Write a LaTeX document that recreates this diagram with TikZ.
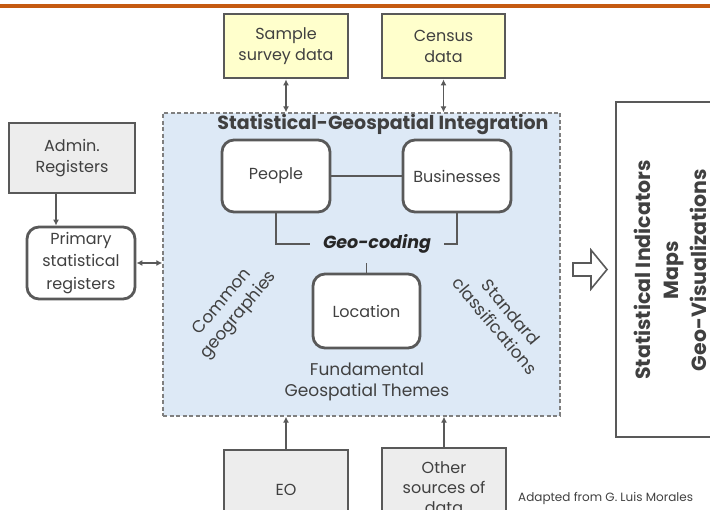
\documentclass[tikz,border=0pt]{standalone}
\usepackage{fontspec}
\setmainfont{Poppins}
\usetikzlibrary{arrows.meta}
\definecolor{edge}{RGB}{89,89,89}
\definecolor{ink}{RGB}{64,64,64}
\definecolor{paleblue}{RGB}{221,233,246}
\definecolor{paleyellow}{RGB}{255,255,204}
\definecolor{palegray}{RGB}{237,237,237}
\definecolor{rust}{RGB}{197,90,17}
\definecolor{dashgray}{RGB}{127,127,127}
\begin{document}
\begin{tikzpicture}[x=1pt,y=-1pt,
  src/.style={draw=edge, line width=2.8pt, text=ink, align=center,
    font=\fontsize{16}{21}\selectfont, inner sep=0pt},
  rbox/.style={src, rounded corners=12pt, fill=white},
  link/.style={draw=edge, line width=1.5pt},
  tip/.style={-{Latex[length=6pt,width=6pt]}},
  bitip/.style={{Latex[length=6pt,width=6pt]}-{Latex[length=6pt,width=6pt]}},
  lbl/.style={text=ink, align=center, font=\fontsize{17}{21}\selectfont, inner sep=0pt}]
\useasboundingbox (0,0) rectangle (710,510);
\clip (0,0) rectangle (710,510);

% header rule
\fill[rust] (0,4) rectangle (710,8.5);

% integration panel
\node[draw=dashgray, line width=1.3pt, dash pattern=on 4pt off 2.5pt, fill=paleblue,
  minimum width=397pt, minimum height=303pt, inner sep=0pt] (integ) at (361.5,264.5) {};
\node[lbl, font=\fontsize{19}{21}\selectfont\bfseries] (title) at (383,125) {Statistical-Geospatial Integration};

% data sources
\node[src, fill=paleyellow, minimum width=124pt, minimum height=64pt] (samp) at (286,46) {Sample\\survey data};
\node[src, fill=paleyellow, minimum width=123pt, minimum height=64pt] (cens) at (443.5,46) {Census\\data};
\node[src, fill=palegray, minimum width=126pt, minimum height=70pt] (admin) at (72,158) {Admin.\\Registers};
\node[rbox, font=\fontsize{16}{22.5}\selectfont, minimum width=108pt, minimum height=72pt] (prim) at (81,263) {Primary\\statistical\\registers};
\node[src, fill=palegray, minimum width=124pt, minimum height=80pt] (eo) at (286,490) {EO};
\node[src, fill=palegray, font=\fontsize{16}{20}\selectfont, minimum width=124pt, minimum height=80pt] (other) at (444,488) {Other\\sources of\\data};

% themes
\node[rbox, minimum width=108pt, minimum height=72pt] (people) at (276,176) {People};
\node[rbox, minimum width=108pt, minimum height=72pt] (bus) at (457,176) {Businesses};
\node[rbox, minimum width=107pt, minimum height=74pt] (loc) at (366.5,311) {Location};
\node[inner xsep=13pt, inner ysep=0pt, minimum height=38pt, font=\fontsize{17.5}{21}\selectfont\bfseries\itshape,
  text=black!85] (geo) at (377,244) {Geo-coding};
\node[lbl] (fund) at (367,382) {Fundamental\\Geospatial Themes};
\node[lbl, rotate=50] (common) at (231,309) {Common\\geographies};
\node[lbl, rotate=-50] (stand) at (503,319) {Standard\\classifications};

% outputs
\node[src, fill=white, minimum width=110pt, minimum height=335pt] (out) at (671,269.5) {};
\node[text=ink, align=center, rotate=90, inner sep=0pt,
  font=\fontsize{20.5}{28}\selectfont\bfseries] (outtext) at (670,270)
  {Statistical Indicators\\Maps\\Geo-Visualizations};
\draw[edge, line width=1.6pt, fill=white, line join=miter]
  (573,263) -- (591,263) -- (591,250) -- (607,269.5) -- (591,289) -- (591,276) -- (573,276) -- cycle;

% connectors
\draw[link, bitip] (samp.south) -- (samp.south |- integ.north);
\draw[link, bitip] (cens.south) -- (cens.south |- integ.north);
\draw[link, bitip] (prim.east) -- (prim.east -| integ.west);
\draw[link, tip] ([xshift=-16pt]admin.south) -- ([xshift=-25pt]prim.north);
\draw[link, tip] (eo.north) -- (eo.north |- integ.south);
\draw[link, tip] (other.north) -- (other.north |- integ.south);
\draw[link] (people.east) -- (bus.west);
\draw[link] (people.south) |- (geo.west);
\draw[link] (bus.south) |- (geo.east);
\draw[link] (loc.north) -- (loc.north |- geo.south);

\node[anchor=west, text=ink, inner sep=0pt, font=\fontsize{12}{14}\selectfont] (credit) at (518,498)
  {Adapted from G. Luis Morales};
\end{tikzpicture}
\end{document}
